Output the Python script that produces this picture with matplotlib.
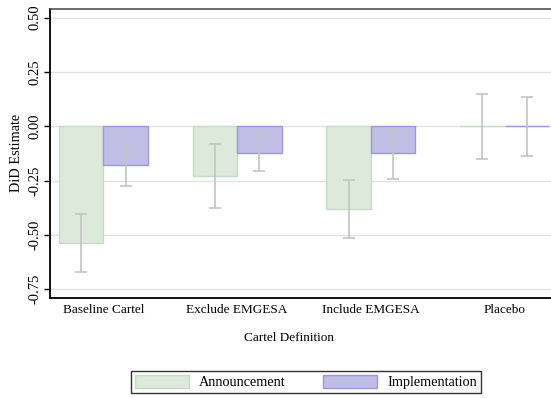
import numpy as np
import matplotlib
matplotlib.use("Agg")
from matplotlib import pyplot as plt
from matplotlib.patches import Patch

plt.rcParams['font.family'] = ['Liberation Serif', 'DejaVu Serif']

categories = ['Baseline Cartel', 'Exclude EMGESA', 'Include EMGESA', 'Placebo']
announce = [-0.536, -0.229, -0.379, 0.001]
announce_lo = [-0.673, -0.376, -0.515, -0.152]
announce_hi = [-0.402, -0.084, -0.246, 0.149]
implement = [-0.177, -0.121, -0.124, -0.001]
implement_lo = [-0.275, -0.204, -0.241, -0.138]
implement_hi = [-0.083, -0.038, -0.014, 0.135]
yticks = [-0.75, -0.50, -0.25, 0.00, 0.25, 0.50]

green_fill, green_edge = '#dce9db', '#c3dcc2'
blue_fill, blue_edge = '#c0bee4', '#9b98db'
err_col = '#c4c4c4'

fig = plt.figure(figsize=(5.51, 3.98), dpi=100)
ax = fig.add_axes([50 / 551, 1 - 298 / 398, 508 / 551, 289 / 398])

x = np.arange(len(categories))
w = 1 / 3

ax.set_axisbelow(True)
ax.yaxis.grid(True, color='#e2e2e2', linewidth=1.0)

ax.bar(x - w / 2, announce, w, color=green_fill, edgecolor=green_edge, linewidth=1.0)
ax.bar(x + w / 2, implement, w, color=blue_fill, edgecolor=blue_edge, linewidth=1.0)

a = np.array(announce)
i = np.array(implement)
ax.errorbar(x - w / 2, a, yerr=[a - np.array(announce_lo), np.array(announce_hi) - a],
            fmt='none', ecolor=err_col, elinewidth=1.2, capsize=4, capthick=1.2)
ax.errorbar(x + w / 2, i, yerr=[i - np.array(implement_lo), np.array(implement_hi) - i],
            fmt='none', ecolor=err_col, elinewidth=1.2, capsize=4, capthick=1.2)

ax.set_xlim(-0.4, 3.4)
ax.set_ylim(-0.791, 0.54)
ax.set_xticks(x)
ax.set_xticklabels(categories, fontsize=9.5)
ax.tick_params(axis='x', length=0, pad=4)
ax.set_yticks(yticks)
ax.set_yticklabels(['%.2f' % v for v in yticks], rotation=90, va='center', fontsize=10.5)
ax.tick_params(axis='y', length=4, width=1, pad=2)

for side in ['left', 'bottom']:
    ax.spines[side].set_linewidth(1.3)
    ax.spines[side].set_color('black')
ax.spines['top'].set_linewidth(1.1)
ax.spines['top'].set_color('#444444')
ax.spines['right'].set_visible(False)

fig.text(17 / 551, 1 - 153 / 398, 'DiD Estimate', rotation=90, ha='center', va='center', fontsize=10.3)
fig.text(289 / 551, 1 - 338 / 398, 'Cartel Definition', ha='center', va='center', fontsize=9.5)

handles = [Patch(facecolor=green_fill, edgecolor=green_edge, label='Announcement'),
           Patch(facecolor=blue_fill, edgecolor=blue_edge, label='Implementation')]
leg = fig.legend(handles=handles, loc='center', bbox_to_anchor=(306 / 551, 1 - 382 / 398),
                 ncol=2, frameon=True, fancybox=False, fontsize=10.3,
                 handlelength=3.8, handleheight=1.0, columnspacing=2.6, handletextpad=0.7,
                 borderpad=0.3)
leg.get_frame().set_edgecolor('black')
leg.get_frame().set_linewidth(1.0)

fig.savefig('out.png', dpi=100)
